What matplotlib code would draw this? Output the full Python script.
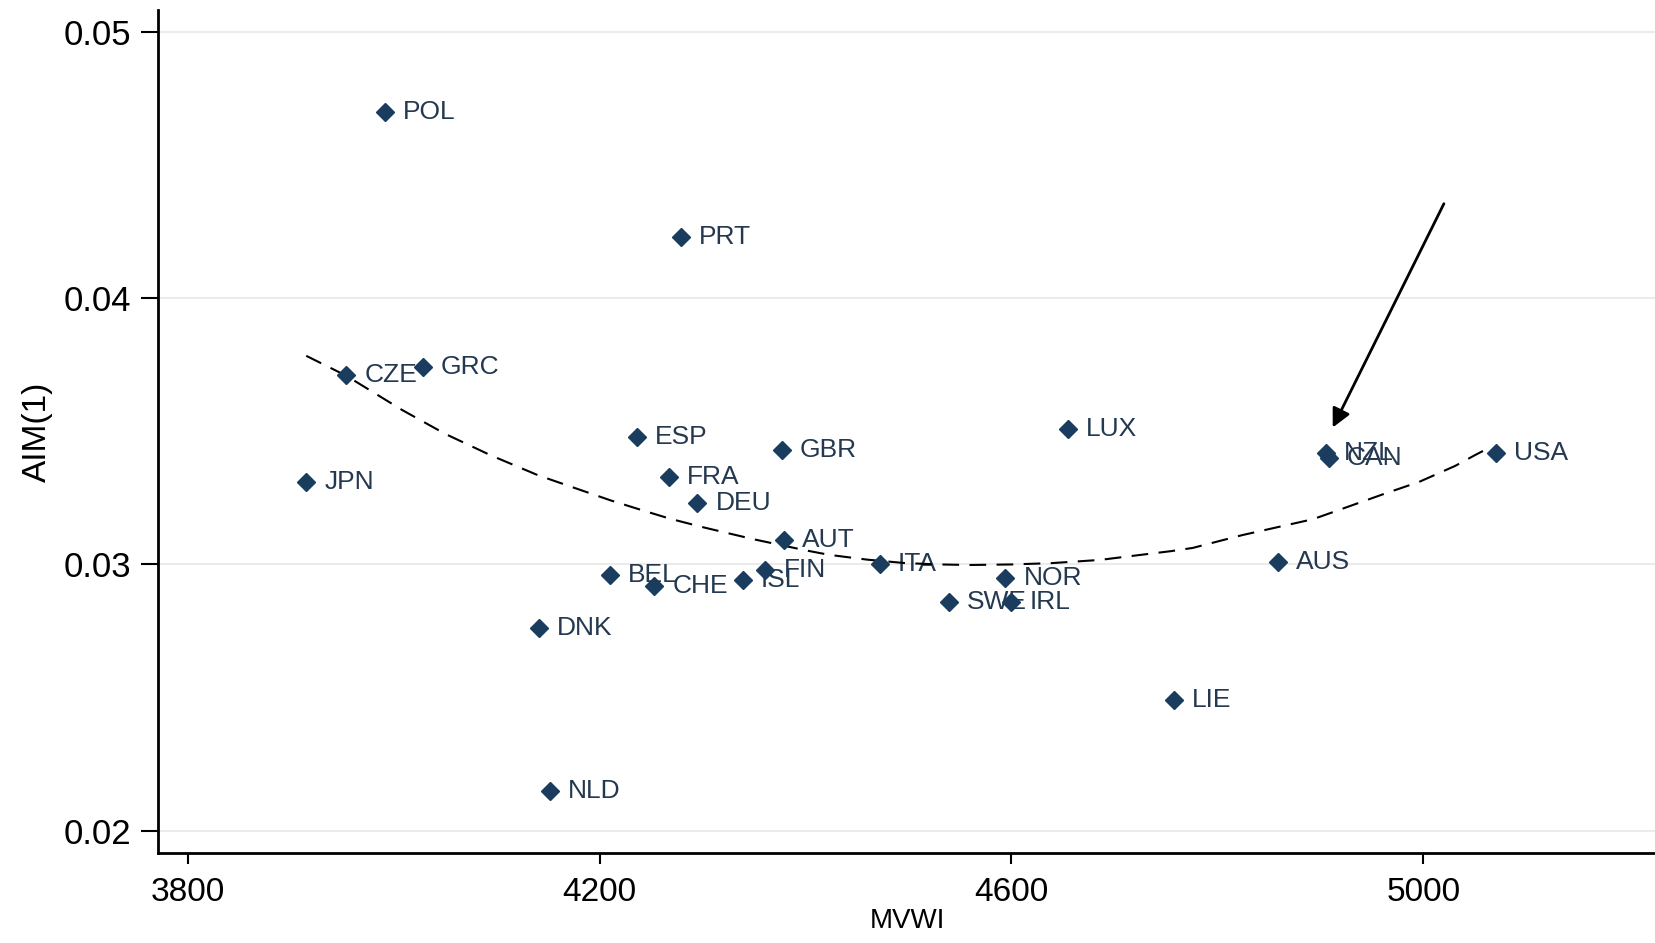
import matplotlib
matplotlib.use("Agg")
import matplotlib.pyplot as plt
from matplotlib import font_manager

# country scores
countries = ["POL", "PRT", "CZE", "GRC", "JPN", "ESP", "GBR", "FRA", "DEU", "LUX",
             "AUT", "ITA", "BEL", "CHE", "ISL", "FIN", "NOR", "SWE", "IRL", "DNK",
             "NLD", "LIE", "AUS", "NZL", "CAN", "USA"]
mvwi = [3991, 4279, 3954, 4028, 3915, 4236, 4377, 4267, 4295, 4655,
        4379, 4472, 4210, 4253, 4339, 4361, 4594, 4539, 4600, 4141,
        4152, 4758, 4859, 4905, 4908, 5071]
aim = [0.0470, 0.0423, 0.0371, 0.0374, 0.0331, 0.0348, 0.0343, 0.0333, 0.0323, 0.0351,
       0.0309, 0.0300, 0.0296, 0.0292, 0.0294, 0.0298, 0.0295, 0.0286, 0.0286, 0.0276,
       0.0215, 0.0249, 0.0301, 0.0342, 0.0340, 0.0342]

# smoothed fit line
fit_x = [3915, 3954, 4008, 4050, 4094, 4140, 4181, 4211, 4240, 4268, 4300, 4349,
         4400, 4423, 4460, 4497, 4530, 4560, 4600, 4639, 4686, 4713, 4755, 4776,
         4824, 4893, 4962, 4996, 5031, 5050, 5065]
fit_y = [0.03783, 0.03708, 0.03580, 0.03490, 0.03410, 0.03335, 0.03280, 0.03240,
         0.03205, 0.03172, 0.03140, 0.03095, 0.03053, 0.03036, 0.03018, 0.03005,
         0.03000, 0.02998, 0.03000, 0.03005, 0.03017, 0.03030, 0.03050, 0.03062,
         0.03110, 0.03170, 0.03265, 0.03310, 0.03370, 0.03410, 0.03440]

xticks = [3800, 4200, 4600, 5000]
yticks = [0.02, 0.03, 0.04, 0.05]

names = {f.name for f in font_manager.fontManager.ttflist}
fam = "Liberation Sans" if "Liberation Sans" in names else "DejaVu Sans"
plt.rcParams["font.family"] = fam

navy = "#1a3d5f"

fig = plt.figure(figsize=(16.56, 9.43), dpi=100)
ax = fig.add_axes([158/1656, 1 - 853/943, 1 - 158/1656, (853 - 10)/943])

ax.plot(fit_x, fit_y, color="black", lw=1.5, dashes=(8, 5), zorder=5)
ax.plot(mvwi, aim, "D", color=navy, markersize=9.5, linestyle="none", zorder=6)
for c, x, y in zip(countries, mvwi, aim):
    ax.annotate(c, (x, y), xytext=(13, 0), textcoords="offset points",
                va="center", ha="left", fontsize=19, color="#24384f", zorder=4)

ax.annotate("", xy=(4912, 0.03514), xytext=(5020, 0.04354),
            arrowprops=dict(arrowstyle="-|>", color="black", lw=2,
                            mutation_scale=28, shrinkA=0, shrinkB=0))

ax.set_xlim(3771, 5226)
ax.set_ylim(0.01917, 0.05081)
ax.set_xticks(xticks)
ax.set_yticks(yticks)
ax.set_yticklabels(["%.2f" % v for v in yticks])
ax.tick_params(axis="y", length=12, width=1.5, pad=7, labelsize=25)
ax.tick_params(axis="x", length=8, width=1.5, pad=9, labelsize=24)
ax.grid(axis="y", color="#ebebeb", lw=1.5)
ax.set_axisbelow(True)
for s in ["top", "right"]:
    ax.spines[s].set_visible(False)
for s in ["left", "bottom"]:
    ax.spines[s].set_linewidth(2)
ax.set_xlabel("MVWI", fontsize=20, labelpad=0)
ax.set_ylabel("AIM(1)", fontsize=24, labelpad=8)

fig.savefig("out.png", dpi=100)
